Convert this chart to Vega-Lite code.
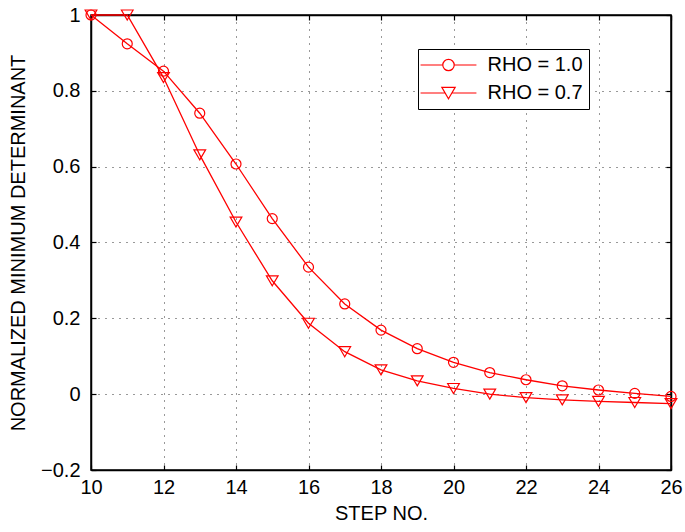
{
  "$schema": "https://vega.github.io/schema/vega-lite/v6.json",
  "autosize": "none",
  "width": 580,
  "height": 455,
  "padding": {"left": 91, "top": 15, "right": 14, "bottom": 62},
  "background": "white",
  "config": {
    "view": {"stroke": "black", "strokeWidth": 1.5},
    "font": "Liberation Sans",
    "axis": {
      "domainColor": "black", "domainWidth": 1.5, "tickColor": "black", "tickWidth": 1.2,
      "labelColor": "black", "labelFont": "Liberation Sans", "labelFontSize": 20,
      "titleColor": "black", "titleFont": "Liberation Sans", "titleFontSize": 20, "titleFontWeight": "normal",
      "gridColor": "black", "gridDash": [1, 6], "gridOpacity": 0.8, "gridWidth": 1,
      "tickSize": -5
    }
  },
  "datasets": {
    "main": [
      {"step": 10, "value": 1.0, "series": "RHO = 1.0"},
      {"step": 11, "value": 0.924, "series": "RHO = 1.0"},
      {"step": 12, "value": 0.852, "series": "RHO = 1.0"},
      {"step": 13, "value": 0.741, "series": "RHO = 1.0"},
      {"step": 14, "value": 0.607, "series": "RHO = 1.0"},
      {"step": 15, "value": 0.463, "series": "RHO = 1.0"},
      {"step": 16, "value": 0.335, "series": "RHO = 1.0"},
      {"step": 17, "value": 0.238, "series": "RHO = 1.0"},
      {"step": 18, "value": 0.169, "series": "RHO = 1.0"},
      {"step": 19, "value": 0.120, "series": "RHO = 1.0"},
      {"step": 20, "value": 0.084, "series": "RHO = 1.0"},
      {"step": 21, "value": 0.057, "series": "RHO = 1.0"},
      {"step": 22, "value": 0.038, "series": "RHO = 1.0"},
      {"step": 23, "value": 0.022, "series": "RHO = 1.0"},
      {"step": 24, "value": 0.011, "series": "RHO = 1.0"},
      {"step": 25, "value": 0.002, "series": "RHO = 1.0"},
      {"step": 26, "value": -0.006, "series": "RHO = 1.0"},
      {"step": 10, "value": 1.0, "series": "RHO = 0.7"},
      {"step": 11, "value": 1.0, "series": "RHO = 0.7"},
      {"step": 12, "value": 0.835, "series": "RHO = 0.7"},
      {"step": 13, "value": 0.631, "series": "RHO = 0.7"},
      {"step": 14, "value": 0.454, "series": "RHO = 0.7"},
      {"step": 15, "value": 0.299, "series": "RHO = 0.7"},
      {"step": 16, "value": 0.187, "series": "RHO = 0.7"},
      {"step": 17, "value": 0.112, "series": "RHO = 0.7"},
      {"step": 18, "value": 0.064, "series": "RHO = 0.7"},
      {"step": 19, "value": 0.035, "series": "RHO = 0.7"},
      {"step": 20, "value": 0.015, "series": "RHO = 0.7"},
      {"step": 21, "value": 0.0, "series": "RHO = 0.7"},
      {"step": 22, "value": -0.009, "series": "RHO = 0.7"},
      {"step": 23, "value": -0.015, "series": "RHO = 0.7"},
      {"step": 24, "value": -0.019, "series": "RHO = 0.7"},
      {"step": 25, "value": -0.022, "series": "RHO = 0.7"},
      {"step": 26, "value": -0.025, "series": "RHO = 0.7"}
    ]
  },
  "data": {"name": "main"},
  "layer": [
    {
      "mark": {"type": "line", "color": "#ff0000", "strokeWidth": 1.3},
      "encoding": {
        "x": {"field": "step", "type": "quantitative",
              "scale": {"domain": [10, 26], "nice": false, "zero": false},
              "axis": {"title": "STEP NO.", "values": [10, 12, 14, 16, 18, 20, 22, 24, 26], "labelPadding": 12, "titlePadding": 6, "grid": true, "labelFlush": false}},
        "y": {"field": "value", "type": "quantitative",
              "scale": {"domain": [-0.2, 1], "nice": false, "zero": false},
              "axis": {"title": "NORMALIZED MINIMUM DETERMINANT", "values": [-0.2, 0, 0.2, 0.4, 0.6, 0.8, 1], "format": "~g", "labelPadding": 16, "titlePadding": 12, "grid": true, "labelFlush": false}},
        "detail": {"field": "series", "type": "nominal"}
      }
    },
    {
      "mark": {"type": "point", "filled": false, "color": "#ff0000", "opacity": 1, "strokeWidth": 1.2, "size": 100},
      "encoding": {
        "x": {"field": "step", "type": "quantitative", "axis": null},
        "y": {"field": "value", "type": "quantitative", "axis": null},
        "shape": {"field": "series", "type": "nominal", "legend": null,
                  "scale": {"domain": ["RHO = 1.0", "RHO = 0.7"],
                            "range": ["M1,0A1,1,0,1,1,-1,0A1,1,0,1,1,1,0", "M0,1L1.17,-1L-1.17,-1Z"]}}
      }
    },
    {
      "transform": [{"filter": "datum.step < 0"}],
      "mark": {"type": "point", "filled": false, "color": "#ff0000", "opacity": 1, "strokeWidth": 1.2},
      "encoding": {
        "x": {"field": "step", "type": "quantitative",
              "axis": {"orient": "top", "labels": false, "title": null, "grid": false, "values": [10, 12, 14, 16, 18, 20, 22, 24, 26]}},
        "y": {"field": "value", "type": "quantitative",
              "axis": {"orient": "right", "labels": false, "title": null, "grid": false, "values": [-0.2, 0, 0.2, 0.4, 0.6, 0.8, 1]}},
        "shape": {"field": "series", "type": "nominal",
                  "scale": {"domain": ["RHO = 1.0", "RHO = 0.7"],
                            "range": ["M-4.9,0L-1,0M1,0L4.9,0M1,0A1,1,0,1,1,-1,0A1,1,0,1,1,1,0", "M-4.9,0L-0.585,0M0.585,0L4.9,0M0,1L1.17,-1L-1.17,-1Z"]},
                  "legend": {"orient": "none", "legendX": 327, "legendY": 34, "title": null, "padding": 6,
                             "symbolSize": 130, "symbolOffset": 14.5, "labelOffset": 29,
                             "labelFontSize": 20, "labelFont": "Liberation Sans", "labelColor": "black",
                             "strokeColor": "black", "fillColor": "white", "rowPadding": 8,
                             "symbolStrokeWidth": 1.2, "symbolStrokeColor": "#ff0000",
                             "labelExpr": "datum.label + '\u00a0\u00a0\u00a0'"}}
      }
    }
  ],
  "resolve": {"scale": {"shape": "independent"}, "axis": {"x": "independent", "y": "independent"}}
}
